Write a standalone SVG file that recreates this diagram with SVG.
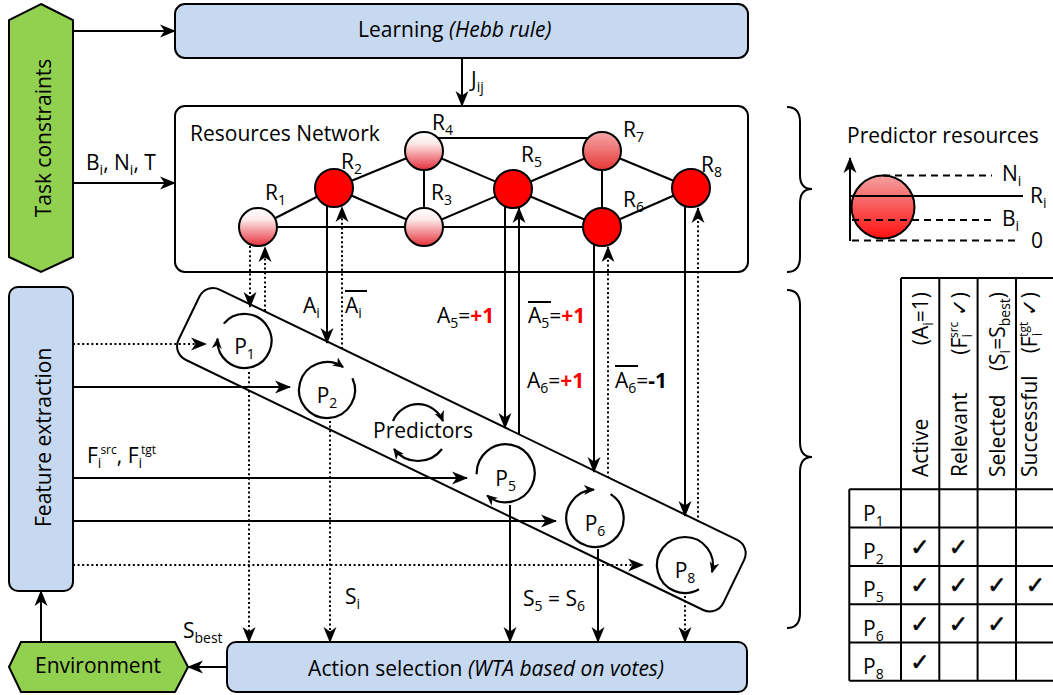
<svg xmlns="http://www.w3.org/2000/svg" width="1053" height="695" viewBox="0 0 1053 695">
<style>
text{font-family:'Open Sans','Noto Sans','Liberation Sans',sans-serif;font-size:21px;fill:#000}
.s{font-size:14px}
.ss{font-size:12px}
.ck{font-family:'DejaVu Sans',sans-serif;font-size:23px;stroke:#000;stroke-width:0.6}
.box{fill:#c6d9f1;stroke:#000;stroke-width:2}
.wbox{fill:#fff;stroke:#000;stroke-width:2}
.hex{fill:#92d050;stroke:#000;stroke-width:2}
.ln{fill:none;stroke:#000;stroke-width:2}
.dot{fill:none;stroke:#000;stroke-width:2;stroke-dasharray:2 2.6}
.dash{fill:none;stroke:#000;stroke-width:2;stroke-dasharray:7 5}
.arr{marker-end:url(#ah)}
.carr{fill:none;stroke:#000;stroke-width:2.2;marker-end:url(#ahs)}
.red{fill:#ff0000;font-weight:bold}
.b{font-weight:bold}
.node{stroke:#000;stroke-width:2}
.grid{fill:none;stroke:#000;stroke-width:2}
</style>
<defs>
<marker id="ah" markerUnits="userSpaceOnUse" markerWidth="16" markerHeight="16" viewBox="0 0 16 16" refX="15" refY="8" orient="auto">
<path d="M0,1.5 L16,8 L0,14.5 L4.5,8 z" fill="#000"/>
</marker>
<marker id="ahs" markerUnits="userSpaceOnUse" markerWidth="11" markerHeight="11" viewBox="0 0 11 11" refX="10" refY="5.5" orient="auto">
<path d="M0,0.5 L11,5.5 L0,10.5 L3.2,5.5 z" fill="#000"/>
</marker>
<linearGradient id="gPale" x1="0" y1="0" x2="0" y2="1">
<stop offset="0" stop-color="#ffffff"/>
<stop offset="0.3" stop-color="#fdeaea"/>
<stop offset="1" stop-color="#e4303a"/>
</linearGradient>
<linearGradient id="gMid" x1="0" y1="0" x2="0" y2="1">
<stop offset="0" stop-color="#f6a8a8"/>
<stop offset="1" stop-color="#e63838"/>
</linearGradient>
<linearGradient id="gRes" x1="0" y1="0" x2="0" y2="1">
<stop offset="0" stop-color="#f4a0a0"/>
<stop offset="1" stop-color="#ff1010"/>
</linearGradient>
</defs>

<g id="task">
<polygon class="hex" points="41,4 73,20 73,257 41,272 9,257 9,20"/>
<text transform="translate(51,138) rotate(-90)" text-anchor="middle">Task constraints</text>
</g>
<g id="learning">
<rect class="box" x="175" y="4" width="573" height="54" rx="10"/>
<text x="358" y="37">Learning <tspan font-style="italic">(Hebb rule)</tspan></text>
</g>
<g id="network">
<rect class="wbox" x="175" y="106" width="573" height="166" rx="10"/>
<text x="190" y="141">Resources Network</text>
<g id="net-edges" class="ln">
<line x1="258" y1="227" x2="334" y2="188"/>
<line x1="258" y1="227" x2="424" y2="227"/>
<line x1="424" y1="227" x2="602" y2="227"/>
<line x1="334" y1="188" x2="424" y2="151"/>
<line x1="334" y1="188" x2="424" y2="227"/>
<line x1="424" y1="151" x2="424" y2="227"/>
<line x1="424" y1="151" x2="513" y2="189"/>
<line x1="424" y1="227" x2="513" y2="189"/>
<line x1="424" y1="138" x2="602" y2="138"/>
<line x1="513" y1="189" x2="602" y2="151"/>
<line x1="513" y1="189" x2="602" y2="227"/>
<line x1="602" y1="151" x2="602" y2="227"/>
<line x1="602" y1="151" x2="691" y2="188"/>
<line x1="602" y1="227" x2="691" y2="188"/>
</g>
<g id="R1"><circle class="node" cx="258" cy="227" r="19" fill="url(#gPale)"/><text x="265" y="200">R<tspan class="s" dy="5">1</tspan></text></g>
<g id="R2"><circle class="node" cx="334" cy="188" r="19" fill="#ff0000"/><text x="341" y="169">R<tspan class="s" dy="5">2</tspan></text></g>
<g id="R3"><circle class="node" cx="424" cy="227" r="19" fill="url(#gPale)"/><text x="431" y="200">R<tspan class="s" dy="5">3</tspan></text></g>
<g id="R4"><circle class="node" cx="424" cy="151" r="19" fill="url(#gPale)"/><text x="432" y="130">R<tspan class="s" dy="5">4</tspan></text></g>
<g id="R5"><circle class="node" cx="513" cy="189" r="19" fill="#ff0000"/><text x="521" y="162">R<tspan class="s" dy="5">5</tspan></text></g>
<g id="R6"><circle class="node" cx="602" cy="227" r="19" fill="#ff0000"/><text x="623" y="207">R<tspan class="s" dy="5">6</tspan></text></g>
<g id="R7"><circle class="node" cx="602" cy="151" r="19" fill="url(#gMid)"/><text x="623" y="137">R<tspan class="s" dy="5">7</tspan></text></g>
<g id="R8"><circle class="node" cx="691" cy="188" r="19" fill="#ff0000"/><text x="701" y="172">R<tspan class="s" dy="5">8</tspan></text></g>
</g>

<g id="feature">
<rect class="box" x="9" y="287" width="64" height="304" rx="9"/>
<text transform="translate(51,527) rotate(-90)">Feature extraction</text>
</g>
<g id="environment">
<polygon class="hex" points="9,667 21,642 175,642 188,667 175,692 21,692"/>
<text x="98" y="673" text-anchor="middle">Environment</text>
</g>
<g id="action">
<rect class="box" x="227" y="642" width="520" height="50" rx="9"/>
<text x="486" y="676" text-anchor="middle">Action selection <tspan font-style="italic">(WTA based on votes)</tspan></text>
</g>

<g id="predictors">
<rect class="ln" x="0" y="0" width="605" height="78" rx="15" transform="translate(206,283) rotate(25.8)"/>
<g id="P1"><path class="carr" d="M223.8 323.6 A27 27 0 1 1 217.6 338.6"/><text x="244.5" y="354" text-anchor="middle">P<tspan class="s" dy="5">1</tspan></text></g>
<g id="P2"><path class="carr" d="M352.4 378.2 A28 28 0 1 1 343.1 367.1"/><text x="327" y="403" text-anchor="middle">P<tspan class="s" dy="5">2</tspan></text></g>
<g id="P5"><path class="carr" d="M476.7 474.3 A29 29 0 1 1 487.1 495.5"/><text x="505.7" y="486" text-anchor="middle">P<tspan class="s" dy="5">5</tspan></text></g>
<g id="P6"><path class="carr" d="M610.6 494.2 A28.7 28.7 0 1 1 594 489.6"/><text x="595" y="531" text-anchor="middle">P<tspan class="s" dy="5">6</tspan></text></g>
<g id="P8"><path class="carr" d="M699 589.2 A28 28 0 1 1 712 572.2"/><text x="685" y="578" text-anchor="middle">P<tspan class="s" dy="5">8</tspan></text></g>
<g id="predictors-label">
<path class="carr" d="M393 421 A27 27 0 0 1 443 421"/>
<path class="carr" d="M442 449 A30 30 0 0 1 394 449"/>
<text x="423" y="438" text-anchor="middle">Predictors</text>
</g>
</g>

<g id="connectors">
<path class="ln arr" d="M73 31 H175"/>
<path class="ln arr" d="M73 183 H175"/>
<path class="ln arr" d="M462 58 V106"/>
<path class="ln arr" d="M227 667 H188"/>
<path class="ln arr" d="M41 642 V591"/>
<path class="dot arr" d="M73 344 H206"/>
<path class="ln arr" d="M73 387 H290"/>
<path class="ln arr" d="M73 478 H467"/>
<path class="ln arr" d="M73 521 H556"/>
<path class="dot arr" d="M73 565 H643"/>
<path class="dot arr" d="M250 246 V307"/>
<path class="dot arr" d="M265 311 V247"/>
<path class="ln arr" d="M327 206 V343"/>
<path class="dot arr" d="M342 349 V207"/>
<path class="ln arr" d="M505 206 V428"/>
<path class="ln arr" d="M519 435 V208"/>
<path class="ln arr" d="M594 245 V472"/>
<path class="dot arr" d="M608 478 V247"/>
<path class="ln arr" d="M685 206 V516"/>
<path class="dot arr" d="M698 522 V208"/>
<path class="dot arr" d="M249 372 V642"/>
<path class="dot arr" d="M330 421 V642"/>
<path class="ln arr" d="M510 505 V642"/>
<path class="ln arr" d="M598 549 V642"/>
<path class="dot arr" d="M685 596 V642"/>
</g>

<g id="labels">
<text x="86" y="170">B<tspan class="s" dy="5">i</tspan><tspan dy="-5">, N</tspan><tspan class="s" dy="5">i</tspan><tspan dy="-5">, T</tspan></text>
<text x="471" y="87">J<tspan class="s" dy="5">ij</tspan></text>
<text x="303" y="313">A<tspan class="s" dy="5">i</tspan></text>
<text x="345" y="313">A<tspan class="s" dy="5">i</tspan></text>
<line class="ln" x1="345" y1="291" x2="367" y2="291"/>
<text x="437" y="323">A<tspan class="s" dy="5">5</tspan><tspan dy="-5">=</tspan><tspan class="red">+1</tspan></text>
<text x="528" y="323">A<tspan class="s" dy="5">5</tspan><tspan dy="-5">=</tspan><tspan class="red">+1</tspan></text>
<line class="ln" x1="528" y1="302" x2="551" y2="302"/>
<text x="527" y="388">A<tspan class="s" dy="5">6</tspan><tspan dy="-5">=</tspan><tspan class="red">+1</tspan></text>
<text x="615" y="388">A<tspan class="s" dy="5">6</tspan><tspan dy="-5">=</tspan><tspan class="b">-1</tspan></text>
<line class="ln" x1="615" y1="366" x2="638" y2="366"/>
<text x="87" y="463">F<tspan class="s" dy="5">i</tspan><tspan class="ss" dx="-1" dy="-14">src</tspan><tspan dy="9">, F</tspan><tspan class="s" dy="5">i</tspan><tspan class="ss" dx="-1" dy="-14">tgt</tspan></text>
<text x="345" y="604">S<tspan class="s" dy="5">i</tspan></text>
<text x="183" y="638">S<tspan class="s" dy="5">best</tspan></text>
<text x="523" y="606">S<tspan class="s" dy="5">5</tspan><tspan dy="-5"> = S</tspan><tspan class="s" dy="5">6</tspan></text>
</g>

<g id="braces" class="ln">
<path d="M787 107 Q800 107 800 122 L800 175 Q800 189 812 189 Q800 189 800 203 L800 257 Q800 272 787 272"/>
<path d="M787 290 Q800 290 800 305 L800 442 Q800 457 812 457 Q800 457 800 472 L800 613 Q800 628 787 628"/>
</g>

<g id="predictor-resources">
<text x="847" y="143">Predictor resources</text>
<circle class="node" cx="883" cy="207" r="31.5" fill="url(#gRes)"/>
<path class="ln arr" d="M850 241 V158"/>
<path class="dash" d="M883 175.5 H992"/>
<path class="ln" d="M850 196 H1023"/>
<path class="dash" d="M852 220 H992"/>
<path class="dash" d="M852 240.5 H1020"/>
<text x="1002" y="181">N<tspan class="s" dy="5">i</tspan></text>
<text x="1030" y="203">R<tspan class="s" dy="5">i</tspan></text>
<text x="1002" y="226">B<tspan class="s" dy="5">i</tspan></text>
<text x="1031" y="248">0</text>
</g>

<g id="table">
<path class="grid" d="M901 278 H1055 M901 278 V680.8 M939.3 278 V680.8 M977.6 278 V680.8 M1016 278 V680.8 M849.3 489.3 H1055 M849.3 527.6 H1055 M849.3 565.9 H1055 M849.3 604.2 H1055 M849.3 642.5 H1055 M849.3 680.8 H1055 M849.3 489.3 V680.8"/>
<text transform="translate(928,477) rotate(-90)">Active</text>
<text transform="translate(928,292) rotate(-90)" text-anchor="end">(A<tspan class="s" dy="5">i</tspan><tspan dy="-5">=1)</tspan></text>
<text transform="translate(966.5,477) rotate(-90)">Relevant</text>
<text transform="translate(966.5,292) rotate(-90)" text-anchor="end">(F<tspan class="s" dy="5">i</tspan><tspan class="ss" dx="-4" dy="-14">src</tspan><tspan dy="9"> ✓)</tspan></text>
<text transform="translate(1005,477) rotate(-90)">Selected</text>
<text transform="translate(1005,292) rotate(-90)" text-anchor="end">(S<tspan class="s" dy="5">i</tspan><tspan dy="-5">=S</tspan><tspan class="s" dy="5">best</tspan><tspan dy="-5">)</tspan></text>
<text transform="translate(1037,477) rotate(-90)">Successful</text>
<text transform="translate(1037,292) rotate(-90)" text-anchor="end">(F<tspan class="s" dy="5">i</tspan><tspan class="ss" dx="-4" dy="-14">tgt</tspan><tspan dy="9"> ✓)</tspan></text>
<text x="863" y="520.7">P<tspan class="s" dy="5">1</tspan></text>
<text x="863" y="559">P<tspan class="s" dy="5">2</tspan></text>
<text x="863" y="597.3">P<tspan class="s" dy="5">5</tspan></text>
<text x="863" y="635.6">P<tspan class="s" dy="5">6</tspan></text>
<text x="863" y="673.9">P<tspan class="s" dy="5">8</tspan></text>
<g class="checks" text-anchor="middle">
<text class="ck" x="920" y="555">✓</text>
<text class="ck" x="958.5" y="555">✓</text>
<text class="ck" x="920" y="593.3">✓</text>
<text class="ck" x="958.5" y="593.3">✓</text>
<text class="ck" x="997" y="593.3">✓</text>
<text class="ck" x="1035.3" y="593.3">✓</text>
<text class="ck" x="920" y="631.6">✓</text>
<text class="ck" x="958.5" y="631.6">✓</text>
<text class="ck" x="997" y="631.6">✓</text>
<text class="ck" x="920" y="669.9">✓</text>
</g>
</g>
</svg>
